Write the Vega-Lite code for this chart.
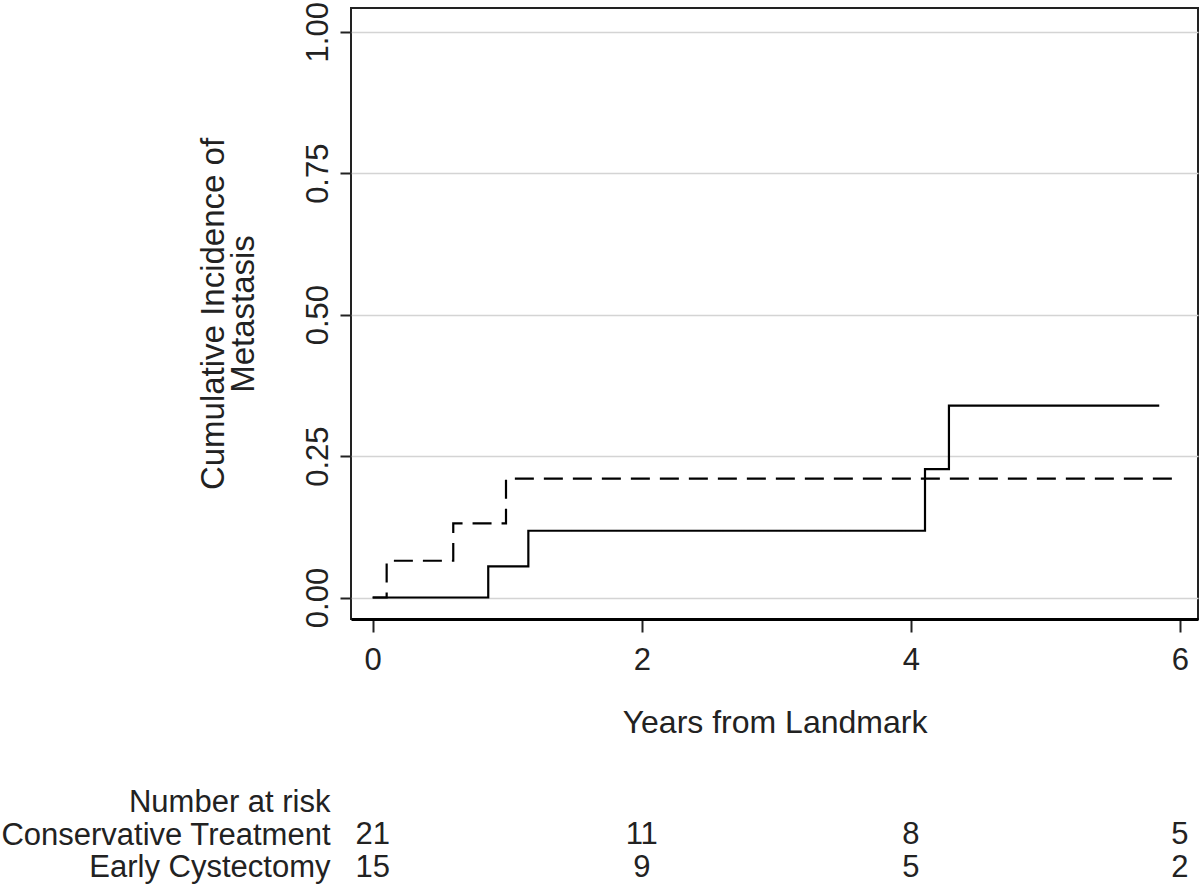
{
  "$schema": "https://vega.github.io/schema/vega-lite/v6.json",
  "padding": {"left": 0, "top": 0, "right": 0, "bottom": 0},
  "background": "white",
  "config": {
    "font": "Liberation Sans",
    "view": {"stroke": "#222", "strokeWidth": 2},
    "axis": {"labelColor": "#222", "titleColor": "#222", "titleFontWeight": "normal", "tickColor": "#222", "labelLimit": 500}
  },
  "spacing": 47,
  "datasets": {
    "curves": [
      {"group": "Conservative Treatment", "year": 0, "incidence": 0},
      {"group": "Conservative Treatment", "year": 0.859, "incidence": 0.055},
      {"group": "Conservative Treatment", "year": 1.157, "incidence": 0.118},
      {"group": "Conservative Treatment", "year": 4.105, "incidence": 0.227},
      {"group": "Conservative Treatment", "year": 4.283, "incidence": 0.339},
      {"group": "Conservative Treatment", "year": 5.846, "incidence": 0.339},
      {"group": "Early Cystectomy", "year": 0, "incidence": 0},
      {"group": "Early Cystectomy", "year": 0.104, "incidence": 0.065},
      {"group": "Early Cystectomy", "year": 0.599, "incidence": 0.131},
      {"group": "Early Cystectomy", "year": 0.991, "incidence": 0.21},
      {"group": "Early Cystectomy", "year": 5.94, "incidence": 0.21}
    ],
    "risk": [
      {"row": "Conservative Treatment", "year": 0, "n": 21},
      {"row": "Conservative Treatment", "year": 2, "n": 11},
      {"row": "Conservative Treatment", "year": 4, "n": 8},
      {"row": "Conservative Treatment", "year": 6, "n": 5},
      {"row": "Early Cystectomy", "year": 0, "n": 15},
      {"row": "Early Cystectomy", "year": 2, "n": 9},
      {"row": "Early Cystectomy", "year": 4, "n": 5},
      {"row": "Early Cystectomy", "year": 6, "n": 2}
    ]
  },
  "vconcat": [
    {
      "width": 847,
      "height": 611,
      "data": {"name": "curves"},
      "mark": {"type": "line", "interpolate": "step-after", "color": "black", "strokeWidth": 2.2},
      "encoding": {
        "x": {
          "field": "year", "type": "quantitative",
          "scale": {"domain": [-0.161, 6.134], "nice": false, "zero": false},
          "axis": {"values": [0, 2, 4, 6], "title": "Years from Landmark", "titleFontSize": 32, "labelFontSize": 31, "tickSize": 13, "labelPadding": 13, "titlePadding": 32, "grid": false, "domainColor": "#000", "domainWidth": 3, "tickWidth": 2, "labelFlush": false, "labelOverlap": false}
        },
        "y": {
          "field": "incidence", "type": "quantitative",
          "scale": {"domain": [-0.038, 1.042], "nice": false, "zero": false},
          "axis": {"values": [0, 0.25, 0.5, 0.75, 1], "format": ".2f", "title": ["Cumulative Incidence of", "Metastasis"], "titleFontSize": 33, "titleLineHeight": 30, "labelFontSize": 31, "labelAngle": -90, "labelAlign": "center", "labelBaseline": "bottom", "tickSize": 11, "labelPadding": 6, "titlePadding": 42, "grid": true, "gridColor": "#d4d4d4", "gridWidth": 1.5, "domain": false, "tickWidth": 2, "labelFlush": false, "labelOverlap": false}
        },
        "strokeDash": {
          "field": "group", "type": "nominal",
          "scale": {"domain": ["Conservative Treatment", "Early Cystectomy"], "range": [[1, 0], [19, 10]]},
          "legend": null
        }
      }
    },
    {
      "width": 847,
      "height": 98,
      "view": {"stroke": null},
      "data": {"name": "risk"},
      "mark": {"type": "text", "fontSize": 31, "color": "#222"},
      "encoding": {
        "x": {"field": "year", "type": "quantitative", "scale": {"domain": [-0.161, 6.134], "nice": false, "zero": false}, "axis": null},
        "y": {
          "field": "row", "type": "nominal",
          "scale": {"domain": ["Number at risk", "Conservative Treatment", "Early Cystectomy"], "paddingInner": 0, "paddingOuter": 0},
          "axis": {"title": null, "domain": false, "ticks": false, "labelFontSize": 31, "labelPadding": 21, "labelColor": "#222", "grid": false, "labelLimit": 500}
        },
        "text": {"field": "n", "type": "quantitative"}
      }
    }
  ]
}
